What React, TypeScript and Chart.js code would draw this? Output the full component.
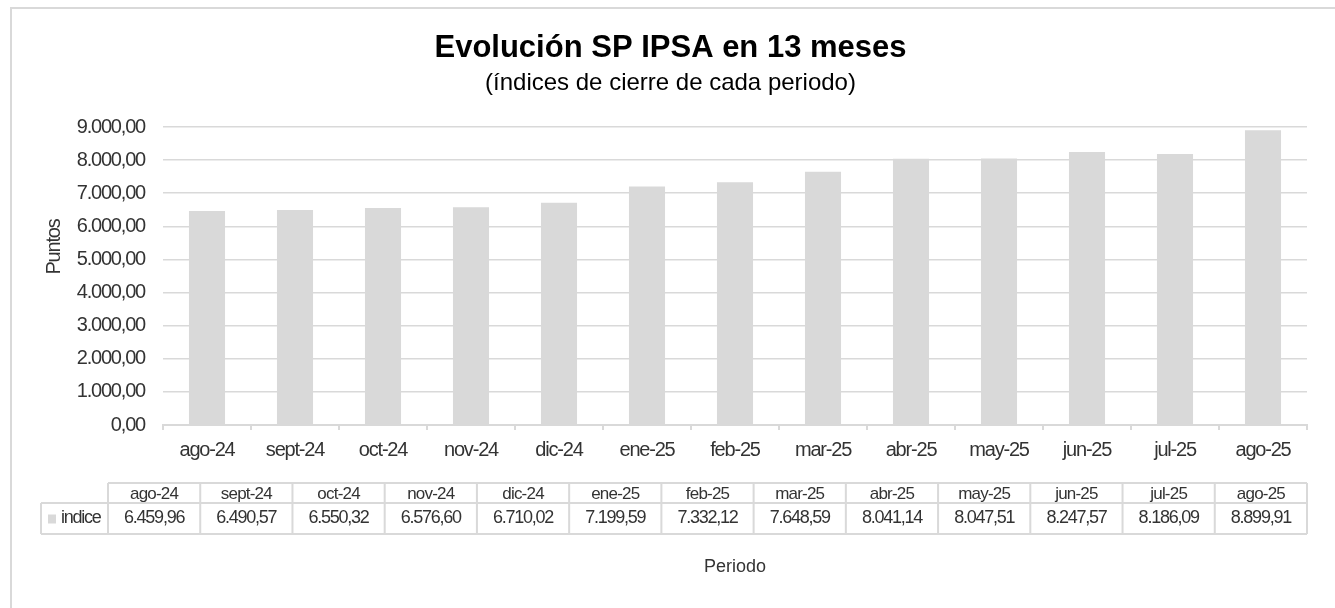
import React, { useEffect, useRef } from "react";
import { Chart, registerables } from "chart.js";

Chart.register(...registerables);

const categories = [
  "ago-24", "sept-24", "oct-24", "nov-24", "dic-24", "ene-25", "feb-25",
  "mar-25", "abr-25", "may-25", "jun-25", "jul-25", "ago-25",
];
const indiceValues = [
  6459.96, 6490.57, 6550.32, 6576.6, 6710.02, 7199.59, 7332.12,
  7648.59, 8041.14, 8047.51, 8247.57, 8186.09, 8899.91,
];
const seriesName = "indice";
const titleText = "Evolución SP IPSA en 13 meses";
const subtitleText = "(índices de cierre de cada periodo)";
const yAxisTitle = "Puntos";
const xAxisTitle = "Periodo";
const yMin = 0;
const yMax = 9000;
const yStep = 1000;

const SANS = '"Liberation Sans", Arial, sans-serif';
const GRID = "#d9d9d9";
const TEXT = "#333333";

function fmt(v: number): string {
  const fixed = Math.abs(v).toFixed(2);
  const [ip, dp] = fixed.split(".");
  const grouped = ip.replace(/\B(?=(\d{3})+(?!\d))/g, ".");
  return (v < 0 ? "-" : "") + grouped + "," + dp;
}

function setSpacing(ctx: any, px: number) {
  if ("letterSpacing" in ctx) ctx.letterSpacing = `${px}px`;
}

const decorPlugin = {
  id: "decor",
  beforeDraw(chart: any) {
    const { ctx } = chart;
    ctx.save();
    ctx.strokeStyle = GRID;
    ctx.lineWidth = 2;
    ctx.beginPath();
    ctx.moveTo(11, chart.height);
    ctx.lineTo(11, 8);
    ctx.lineTo(chart.width, 8);
    ctx.stroke();
    ctx.restore();
  },
  afterDatasetsDraw(chart: any) {
    // condensed look for the tick labels drawn after the bars
    setSpacing(chart.ctx, -1.2);
  },
  afterDraw(chart: any) {
    const { ctx, chartArea } = chart;
    setSpacing(ctx, 0);
    ctx.save();
    // y-axis title
    ctx.save();
    ctx.translate(54, 247);
    ctx.rotate(-Math.PI / 2);
    ctx.font = `20px ${SANS}`;
    setSpacing(ctx, -1.2);
    ctx.fillStyle = TEXT;
    ctx.textAlign = "center";
    ctx.textBaseline = "middle";
    ctx.fillText(yAxisTitle, 0, 0);
    ctx.restore();

    // data table
    const right = chartArea.right;
    const colStart = chartArea.left - 55;
    const legendLeft = colStart - 67;
    const top = chartArea.bottom + 58;
    const headerH = 20;
    const rowH = 31;
    const bottom = top + headerH + rowH;
    const n = categories.length;
    const colW = (right - colStart) / n;

    ctx.strokeStyle = GRID;
    ctx.lineWidth = 2;
    ctx.beginPath();
    ctx.moveTo(colStart, top);
    ctx.lineTo(right, top);
    ctx.moveTo(legendLeft, top + headerH);
    ctx.lineTo(right, top + headerH);
    ctx.moveTo(legendLeft, bottom);
    ctx.lineTo(right, bottom);
    ctx.moveTo(legendLeft, top + headerH);
    ctx.lineTo(legendLeft, bottom);
    for (let i = 0; i <= n; i++) {
      const x = colStart + i * colW;
      ctx.moveTo(x, top);
      ctx.lineTo(x, bottom);
    }
    ctx.stroke();

    ctx.fillStyle = TEXT;
    ctx.textAlign = "center";
    ctx.textBaseline = "middle";
    ctx.font = `17px ${SANS}`;
    setSpacing(ctx, -0.8);
    for (let i = 0; i < n; i++) {
      ctx.fillText(categories[i], colStart + (i + 0.5) * colW, top + headerH / 2 + 1);
    }
    ctx.font = `18px ${SANS}`;
    setSpacing(ctx, -1.25);
    const dataY = top + headerH + rowH / 2;
    for (let i = 0; i < n; i++) {
      ctx.fillText(fmt(indiceValues[i]), colStart + (i + 0.5) * colW, dataY);
    }
    ctx.fillStyle = GRID;
    ctx.fillRect(legendLeft + 7, dataY - 4, 8, 9);
    ctx.fillStyle = TEXT;
    ctx.textAlign = "left";
    ctx.fillText(seriesName, legendLeft + 20, dataY);
    ctx.restore();
    setSpacing(ctx, 0);
  },
};

export default function App() {
  const canvasRef = useRef<HTMLCanvasElement | null>(null);

  useEffect(() => {
    const canvas = canvasRef.current;
    if (!canvas) return;
    const chart = new Chart(canvas, {
      type: "bar",
      data: {
        labels: categories,
        datasets: [
          {
            label: seriesName,
            data: indiceValues,
            backgroundColor: GRID,
            borderWidth: 0,
            barPercentage: 0.41,
            categoryPercentage: 1,
          },
        ],
      },
      options: {
        animation: false,
        responsive: false,
        devicePixelRatio: 1,
        layout: { padding: { left: 34, right: 28, top: 0, bottom: 0 } },
        plugins: {
          legend: { display: false },
          tooltip: { enabled: false },
          title: {
            display: true,
            text: titleText,
            color: "#000000",
            font: { family: SANS, size: 31, weight: "bold" },
            padding: { top: 30, bottom: 0 },
          },
          subtitle: {
            display: true,
            text: subtitleText,
            color: "#000000",
            font: { family: SANS, size: 24 },
            padding: { top: 2, bottom: 29 },
          },
        },
        scales: {
          x: {
            grid: {
              drawOnChartArea: false,
              color: GRID,
              lineWidth: 2,
              tickLength: 5,
            },
            border: { color: GRID, width: 2 },
            ticks: {
              font: { family: SANS, size: 20 },
              color: TEXT,
              padding: 8,
              maxRotation: 0,
              autoSkip: false,
              z: 1,
            },
            title: {
              display: true,
              text: xAxisTitle,
              color: TEXT,
              font: { family: SANS, size: 18 },
              padding: { top: 0, bottom: 30 },
            },
            afterFit: (s: any) => {
              s.height = 183;
            },
          },
          y: {
            min: yMin,
            max: yMax,
            ticks: {
              stepSize: yStep,
              callback: (v: any) => fmt(Number(v)),
              font: { family: SANS, size: 20 },
              color: TEXT,
              padding: 18,
              z: 1,
            },
            grid: { color: GRID, lineWidth: 1.5, drawTicks: false },
            border: { display: false },
            afterFit: (s: any) => {
              s.width = 129;
            },
          },
        },
      },
      plugins: [decorPlugin],
    });
    return () => chart.destroy();
  }, []);

  return (
    <div style={{ position: "absolute", left: 0, top: 0, width: 1335, height: 608, overflow: "hidden", background: "#ffffff" }}>
      <canvas ref={canvasRef} width={1335} height={608} style={{ display: "block" }} />
    </div>
  );
}
